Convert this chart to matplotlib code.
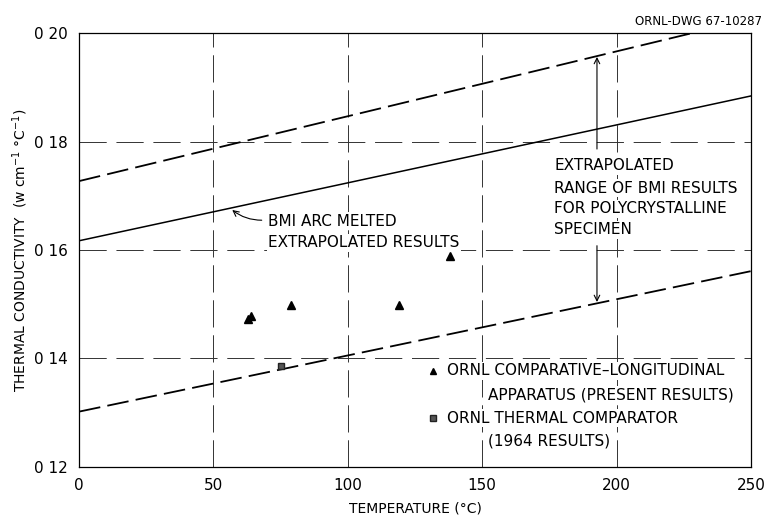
import matplotlib
matplotlib.use("Agg")
import matplotlib.pyplot as plt
import numpy as np

# Data
tri_T = [63, 64, 79, 119, 138]
tri_k = [0.1473, 0.1479, 0.1498, 0.1499, 0.1589]
sq_T = [75]
sq_k = [0.1386]

# BMI lines (endpoints at T = 0 and 250)
line_T = [0, 250]
upper_k = [0.1727, 0.2026]
mid_k = [0.1617, 0.1884]
lower_k = [0.1302, 0.1561]

xticks = [0, 50, 100, 150, 200, 250]
yticks = [0.12, 0.14, 0.16, 0.18, 0.20]
ytick_labels = ["0 12", "0 14", "0 16", "0 18", "0 20"]

plt.rcParams['font.family'] = ['DejaVu Sans']
fig = plt.figure(figsize=(7.75, 5.2), dpi=100)
ax = fig.add_axes([0.102, 0.102, 0.867, 0.8345])

ax.set_xlim(0, 250)
ax.set_ylim(0.12, 0.20)

for x in xticks[1:-1]:
    ax.axvline(x, color='#333333', lw=0.7, dashes=(28, 8), zorder=0)
for y in yticks[1:-1]:
    ax.axhline(y, color='#333333', lw=0.7, dashes=(28, 10), zorder=0)

ax.plot(line_T, upper_k, color='black', lw=1.3, dashes=(12, 4), zorder=2)
ax.plot(line_T, mid_k, color='black', lw=1.1, zorder=2)
ax.plot(line_T, lower_k, color='black', lw=1.3, dashes=(12, 4), zorder=2)

ax.plot(tri_T, tri_k, '^', color='black', ms=6, ls='none', zorder=3)
ax.plot(sq_T, sq_k, 's', color='#222222', mfc='#555555', ms=5, ls='none', zorder=3)

ax.set_xticks(xticks)
ax.set_xticklabels([str(v) for v in xticks], fontsize=11)
ax.set_yticks(yticks)
ax.set_yticklabels(ytick_labels, fontsize=11)
ax.tick_params(length=0, pad=8)
for s in ax.spines.values():
    s.set_linewidth(0.9)

ax.set_xlabel("TEMPERATURE (°C)", fontsize=10, labelpad=6)
ax.set_ylabel("THERMAL CONDUCTIVITY  (w cm$^{-1}$ °C$^{-1}$)", fontsize=10, labelpad=3)

fig.text(0.983, 0.958, "ORNL-DWG 67-10287", ha='right', va='center', fontsize=8.5)

fs = 11
bb = dict(facecolor='white', edgecolor='none', pad=1.0)

def label(x, y, s):
    ax.text(x, y, s, fontsize=fs, va='center', bbox=bb, zorder=1)

label(70.3, 0.1653, "BMI ARC MELTED")
label(70.3, 0.1613, "EXTRAPOLATED RESULTS")
ax.annotate("", xy=(56.2, 0.1677), xytext=(69.0, 0.1655),
            arrowprops=dict(arrowstyle='->', lw=0.8, color='black',
                            connectionstyle='arc3,rad=-0.2'))

label(176.8, 0.1755, "EXTRAPOLATED")
label(176.8, 0.1714, "RANGE OF BMI RESULTS")
label(176.8, 0.1676, "FOR POLYCRYSTALLINE")
label(176.8, 0.1637, "SPECIMEN")
ax.annotate("", xy=(192.7, 0.1961), xytext=(192.7, 0.1781),
            arrowprops=dict(arrowstyle='->', lw=0.8, color='black'))
ax.annotate("", xy=(192.7, 0.1499), xytext=(192.7, 0.1613),
            arrowprops=dict(arrowstyle='->', lw=0.8, color='black'))

ax.plot([131.7], [0.1377], '^', color='black', ms=5, zorder=3)
label(137.0, 0.1377, "ORNL COMPARATIVE\u2013LONGITUDINAL")
label(152.3, 0.1333, "APPARATUS (PRESENT RESULTS)")
ax.plot([131.7], [0.1290], 's', color='#222222', mfc='#555555', ms=4.5, zorder=3)
label(137.0, 0.1290, "ORNL THERMAL COMPARATOR")
label(152.3, 0.1248, "(1964 RESULTS)")

fig.savefig("out.png", dpi=100)
